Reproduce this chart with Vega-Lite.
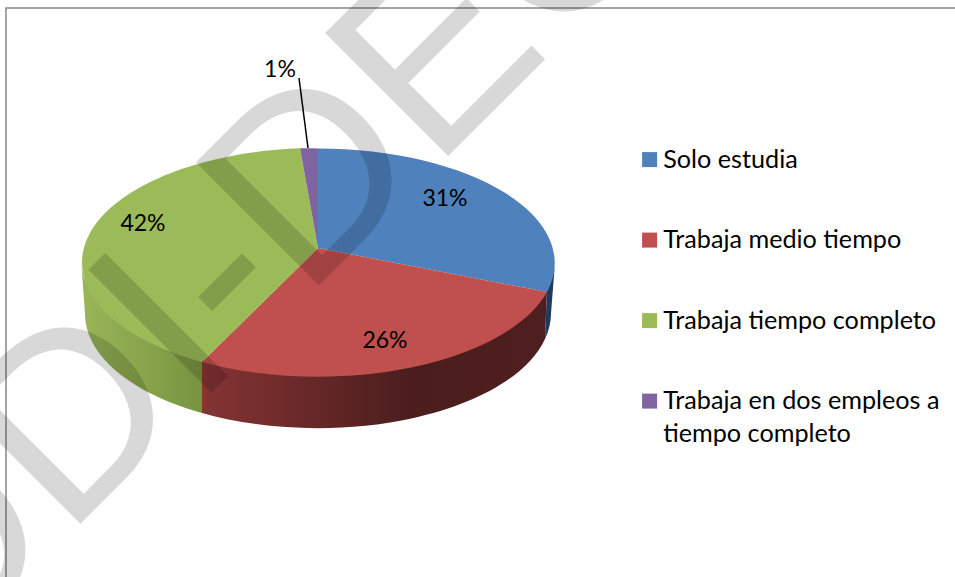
{"$schema":"https://vega.github.io/schema/vega-lite/v6.json","width":950,"height":570,"autosize":"none","padding":{"left":6,"top":8,"right":0,"bottom":0},"background":"white","view":{"stroke":"#868686","strokeWidth":1.5,"fill":"white"},"data":{"values":[{"categoria":"Solo estudia","valor":0.31},{"categoria":"Trabaja medio tiempo","valor":0.26},{"categoria":"Trabaja tiempo completo","valor":0.42},{"categoria":"Trabaja en dos empleos a tiempo completo","valor":0.01}]},"encoding":{"fill":{"field":"categoria","type":"nominal","sort":null,"scale":{"domain":["Solo estudia","Trabaja medio tiempo","Trabaja tiempo completo","Trabaja en dos empleos a tiempo completo"],"range":["#4f81bd","#c0504d","#9bbb59","#8064a2"]},"legend":{"title":null,"orient":"none","legendX":631,"legendY":139,"symbolType":"square","symbolSize":225,"symbolStrokeWidth":0,"labelFont":"Lato","labelFontSize":25.2,"labelColor":"#000000","labelLimit":320,"rowPadding":54.5,"labelOffset":1,"labelExpr":"datum.value=='Trabaja en dos empleos a tiempo completo'?['Trabaja en dos empleos a','tiempo completo']:datum.label","encoding":{"labels":{"lineHeight":{"value":33}}}}}},"layer":[{"transform":[{"filter":"datum.categoria=='Solo estudia'"}],"mark":{"type":"point","filled":true,"opacity":1,"size":4,"shape":"M74,-30.5A237,114.5 0 0 1 66,-4L64,46A233,114.5 0 0 0 70,20.5Z"},"encoding":{"fill":{"value":"#1f3a5f"}}},{"transform":[{"filter":"datum.categoria=='Trabaja medio tiempo'"}],"mark":{"type":"point","filled":true,"opacity":1,"size":4,"shape":"M66,-4A237,114.5 0 0 1 -279,66L-279,120A233,114.5 0 0 0 64,46Z"},"encoding":{"fill":{"value":{"gradient":"linear","x1":0,"y1":0,"x2":1,"y2":0,"stops":[{"offset":0,"color":"#863434"},{"offset":0.6,"color":"#4c1d1d"},{"offset":1,"color":"#4f1f1f"}]}}}},{"transform":[{"filter":"datum.categoria=='Trabaja tiempo completo'"}],"mark":{"type":"point","filled":true,"opacity":1,"size":4,"shape":"M-279,66A237,114.5 0 0 1 -400,-33.5L-396,20.5A233,114.5 0 0 0 -279,120Z"},"encoding":{"fill":{"value":{"gradient":"linear","x1":0,"y1":0,"x2":1,"y2":0,"stops":[{"offset":0,"color":"#9ab658"},{"offset":1,"color":"#789340"}]}}}},{"transform":[{"filter":"datum.categoria=='Solo estudia'"}],"mark":{"type":"point","filled":true,"opacity":1,"size":4,"shape":"M-163,-45L-163,-144.5A237,114.5 0 0 1 66,-1Z"}},{"transform":[{"filter":"datum.categoria=='Trabaja medio tiempo'"}],"mark":{"type":"point","filled":true,"opacity":1,"size":4,"shape":"M-163,-45L66,-1A237,114.5 0 0 1 -279,69Z"}},{"transform":[{"filter":"datum.categoria=='Trabaja tiempo completo'"}],"mark":{"type":"point","filled":true,"opacity":1,"size":4,"shape":"M-163,-45L-279,69A237,114.5 0 0 1 -181,-144.7Z"}},{"transform":[{"filter":"datum.categoria=='Trabaja en dos empleos a tiempo completo'"}],"mark":{"type":"point","filled":true,"opacity":1,"size":4,"shape":"M-163,-45L-181,-144.7A237,114.5 0 0 1 -163,-144.5Z"}},{"transform":[{"filter":"datum.categoria=='Trabaja en dos empleos a tiempo completo'"}],"mark":{"type":"point","filled":false,"opacity":1,"size":4,"stroke":"#000000","strokeWidth":1.5,"shape":"M-182,-215L-173,-145"},"encoding":{"fill":{"value":null}}},{"transform":[{"filter":"datum.categoria=='Solo estudia'"}],"mark":{"type":"text","font":"Lato","fontSize":23,"dx":-36,"dy":-94},"encoding":{"fill":{"value":"#000000"},"text":{"field":"valor","type":"quantitative","format":".0%"}}},{"transform":[{"filter":"datum.categoria=='Trabaja medio tiempo'"}],"mark":{"type":"text","font":"Lato","fontSize":23,"dx":-96,"dy":48},"encoding":{"fill":{"value":"#000000"},"text":{"field":"valor","type":"quantitative","format":".0%"}}},{"transform":[{"filter":"datum.categoria=='Trabaja tiempo completo'"}],"mark":{"type":"text","font":"Lato","fontSize":23,"dx":-338,"dy":-69},"encoding":{"fill":{"value":"#000000"},"text":{"field":"valor","type":"quantitative","format":".0%"}}},{"transform":[{"filter":"datum.categoria=='Trabaja en dos empleos a tiempo completo'"}],"mark":{"type":"text","font":"Lato","fontSize":23,"dx":-201,"dy":-223},"encoding":{"fill":{"value":"#000000"},"text":{"field":"valor","type":"quantitative","format":".0%"}}},{"data":{"values":[{"marca":"ODI-DEO"}]},"mark":{"type":"text","font":"Liberation Sans","fontSize":253,"align":"left","baseline":"alphabetic","angle":315,"dx":-664,"dy":-120,"opacity":0.15},"encoding":{"fill":{"value":"#000000"},"text":{"field":"marca","type":"nominal"}}}]}
